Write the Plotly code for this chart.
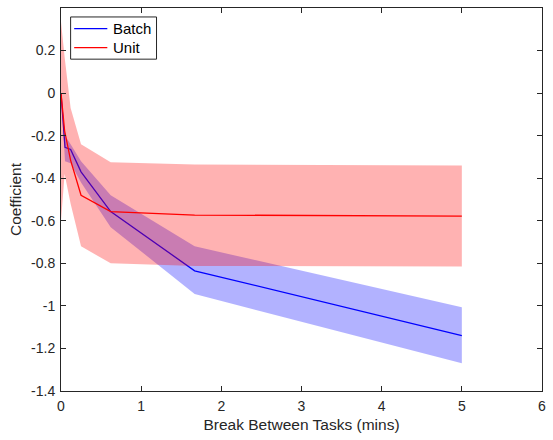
import plotly.graph_objects as go

# Break between tasks (mins)
batch_x = [0, 0.05, 0.12, 0.25, 0.62, 1.667, 5]
batch_y = [0, -0.255, -0.265, -0.37, -0.557, -0.835, -1.14]
batch_hi = [0, -0.2, -0.24, -0.32, -0.48, -0.72, -1.006]
batch_lo = [0, -0.32, -0.33, -0.42, -0.63, -0.944, -1.27]

unit_x = [0, 0.045, 0.12, 0.25, 0.62, 1.667, 5]
unit_y = [0, -0.177, -0.316, -0.48, -0.557, -0.573, -0.578]
unit_hi = [0.335, 0.17, -0.07, -0.24, -0.325, -0.336, -0.34]
unit_lo = [-0.6, -0.38, -0.52, -0.72, -0.8, -0.812, -0.815]

series_names = ["Batch", "Unit"]
series_colors = ["#0000ff", "#ff0000"]

x_ticks = [0, 1, 2, 3, 4, 5, 6]
y_ticks = [0.2, 0, -0.2, -0.4, -0.6, -0.8, -1, -1.2, -1.4]
y_labels = ["0.2", "0", "-0.2", "-0.4", "-0.6", "-0.8", "-1", "-1.2", "-1.4"]

fig = go.Figure()

# Batch band
fig.add_trace(go.Scatter(x=batch_x + batch_x[::-1], y=batch_hi + batch_lo[::-1],
                         fill="toself", fillcolor="rgba(0,0,255,0.3)",
                         line=dict(width=0), mode="lines", showlegend=False, hoverinfo="skip"))
fig.add_trace(go.Scatter(x=batch_x, y=batch_y, mode="lines", name=series_names[0],
                         line=dict(color=series_colors[0], width=1.3), showlegend=False))
# Unit band
fig.add_trace(go.Scatter(x=unit_x + unit_x[::-1], y=unit_hi + unit_lo[::-1],
                         fill="toself", fillcolor="rgba(255,0,0,0.3)",
                         line=dict(width=0), mode="lines", showlegend=False, hoverinfo="skip"))
fig.add_trace(go.Scatter(x=unit_x, y=unit_y, mode="lines", name=series_names[1],
                         line=dict(color=series_colors[1], width=1.3), showlegend=False))

# MATLAB-style compact legend box (paper coordinates)
fig.add_shape(type="rect", xref="paper", yref="paper", x0=0.02, x1=0.1986,
              y0=0.8664, y1=0.9766, line=dict(color="#262626", width=1),
              fillcolor="white", layer="above")
legend_rows = [0.9461, 0.8964]
for name, color, yy in zip(series_names, series_colors, legend_rows):
    fig.add_shape(type="line", xref="paper", yref="paper", x0=0.0274, x1=0.0963,
                  y0=yy, y1=yy, line=dict(color=color, width=1.3), layer="above")
    fig.add_annotation(xref="paper", yref="paper", x=0.1045, y=yy, text=name,
                       showarrow=False, xanchor="left", yanchor="middle",
                       font=dict(size=15, color="#000000"))

axis_common = dict(showgrid=False, zeroline=False, showline=True, linecolor="#262626",
                   linewidth=1, mirror="ticks", ticks="inside", ticklen=5,
                   tickcolor="#262626", tickfont=dict(size=14, color="#262626"))

fig.update_layout(
    width=553, height=440,
    margin=dict(l=61, r=7, t=7, b=49),
    paper_bgcolor="white", plot_bgcolor="white",
    font=dict(family="Liberation Sans, Arial, sans-serif", color="#262626"),
    xaxis=dict(range=[0, 6], tickvals=x_ticks, ticktext=[str(v) for v in x_ticks],
               ticklabelstandoff=2,
               title=dict(text="Break Between Tasks (mins)", font=dict(size=15.5), standoff=6),
               **axis_common),
    yaxis=dict(range=[-1.4, 0.4], tickvals=y_ticks, ticktext=y_labels,
               ticklabelstandoff=2,
               title=dict(text="Coefficient", font=dict(size=15.5), standoff=5),
               **axis_common),
    showlegend=False,
)

fig.write_html("out.html")
